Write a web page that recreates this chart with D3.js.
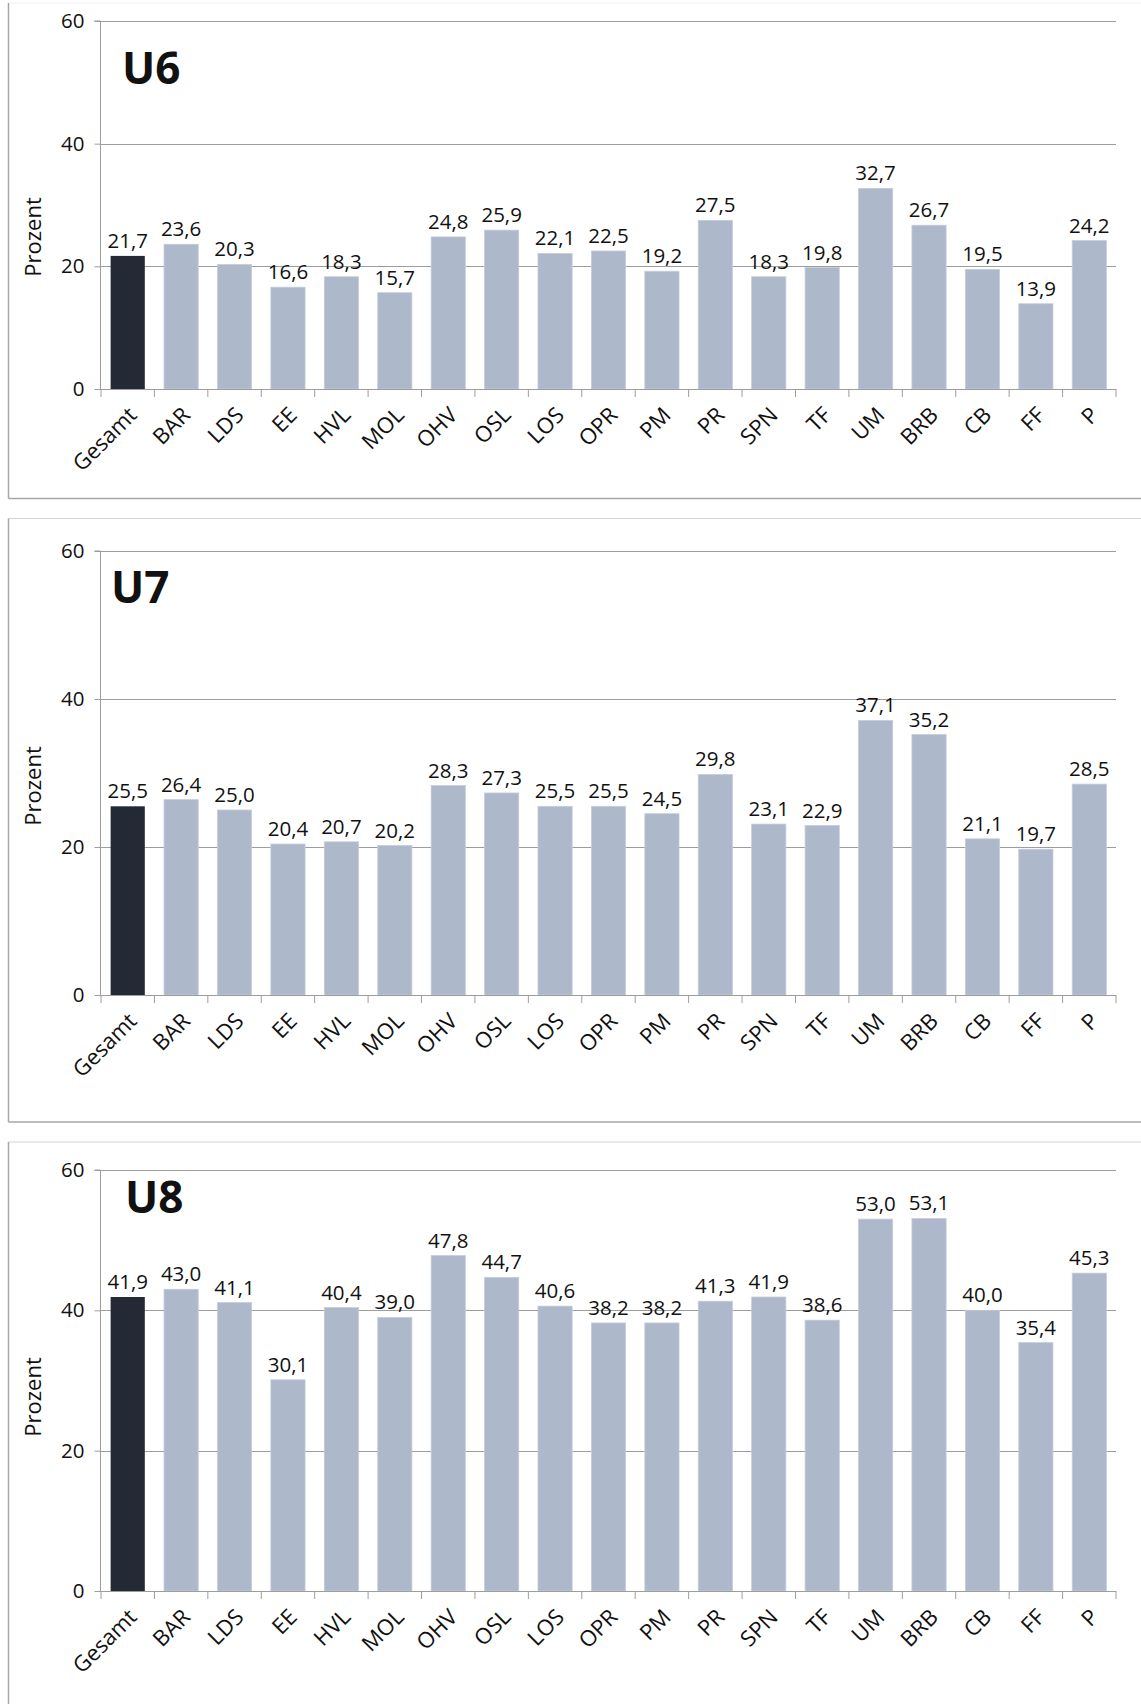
<!DOCTYPE html>
<html>
<head>
<meta charset="utf-8">
<script src="https://cdn.jsdelivr.net/npm/d3@7"></script>
<style>
  body { margin: 0; background: #fff; }
  svg { display: block; }
  text { font-family: 'Open Sans', 'Noto Sans', sans-serif; fill: #111; }
</style>
</head>
<body>
<svg id="chart" width="1141" height="1704"></svg>
<script>
// Kreise / Gesamt
const categories = ['Gesamt','BAR','LDS','EE','HVL','MOL','OHV','OSL','LOS','OPR','PM','PR','SPN','TF','UM','BRB','CB','FF','P'];

const u6 = [21.7,23.6,20.3,16.6,18.3,15.7,24.8,25.9,22.1,22.5,19.2,27.5,18.3,19.8,32.7,26.7,19.5,13.9,24.2];
const u7 = [25.5,26.4,25.0,20.4,20.7,20.2,28.3,27.3,25.5,25.5,24.5,29.8,23.1,22.9,37.1,35.2,21.1,19.7,28.5];
const u8 = [41.9,43.0,41.1,30.1,40.4,39.0,47.8,44.7,40.6,38.2,38.2,41.3,41.9,38.6,53.0,53.1,40.0,35.4,45.3];

const titles = ['U6','U7','U8'];
const yTicks = [0,20,40,60];
const yLabel = 'Prozent';

const series = [u6, u7, u8];

// panel boxes and plot areas (pixels)
const panels = [
  {boxTop: 3,    boxBottom: 498.5, plotTop: 21,  plotBottom: 389, titleX: 122, titleY: 84, labY: 237},
  {boxTop: 518.5, boxBottom: 1122, plotTop: 551, plotBottom: 995, titleX: 111, titleY: 603, labY: 786},
  {boxTop: 1142, boxBottom: 1760, plotTop: 1170, plotBottom: 1591, titleX: 125, titleY: 1213, labY: 1397}
];

const plotLeft = 101, plotRight = 1116;
const fmt = v => v.toFixed(1).replace('.', ',');

const svg = d3.select('#chart');

panels.forEach((p, k) => {
  const g = svg.append('g');
  const data = series[k];

  // panel frame
  g.append('line').attr('x1', 8.5).attr('x2', 1141).attr('y1', p.boxTop).attr('y2', p.boxTop)
    .attr('stroke', k === 0 ? '#f0f0f0' : '#d4d4d4');
  g.append('line').attr('x1', 8.5).attr('x2', 8.5).attr('y1', p.boxTop).attr('y2', p.boxBottom)
    .attr('stroke', '#a6a6a6').attr('stroke-width', 1.5);
  g.append('line').attr('x1', 8.5).attr('x2', 1141).attr('y1', p.boxBottom).attr('y2', p.boxBottom)
    .attr('stroke', '#a6a6a6').attr('stroke-width', 1.5);

  const x = d3.scaleBand()
    .domain(categories)
    .range([plotLeft, plotRight])
    .paddingInner(0.36)
    .paddingOuter(0.18);

  const y = d3.scaleLinear().domain([0, 60]).range([p.plotBottom, p.plotTop]);

  // gridlines
  g.selectAll('.grid').data(yTicks.filter(t => t > 0)).join('line')
    .attr('x1', plotLeft).attr('x2', plotRight)
    .attr('y1', d => Math.round(y(d)) + 0.5).attr('y2', d => Math.round(y(d)) + 0.5)
    .attr('stroke', '#9d9d9d');

  // bars
  g.selectAll('.bar').data(data).join('rect')
    .attr('x', (d, i) => x(categories[i]))
    .attr('width', x.bandwidth())
    .attr('y', d => y(d))
    .attr('height', d => y(0) - y(d))
    .attr('fill', (d, i) => i === 0 ? '#232a36' : '#adb8ca')
    .attr('stroke', (d, i) => i === 0 ? 'none' : '#c4cdd9')
    .attr('stroke-width', 0.8);

  // value labels
  g.selectAll('.val').data(data).join('text')
    .attr('x', (d, i) => x(categories[i]) + x.bandwidth() / 2)
    .attr('y', d => y(d) - 8)
    .attr('text-anchor', 'middle')
    .attr('font-size', 20.5)
    .text(d => fmt(d));

  // y axis
  const yAxis = g.append('g')
    .attr('transform', `translate(${plotLeft - 0.5},0)`)
    .call(d3.axisLeft(y).tickValues(yTicks).tickSize(6).tickPadding(10).tickFormat(d3.format('d')));
  yAxis.select('.domain').attr('stroke', '#9d9d9d').attr('d', `M-6,${y(60)}H0V${y(0)}`);
  yAxis.selectAll('.tick line').attr('stroke', '#9d9d9d');
  yAxis.selectAll('.tick text').attr('font-size', 20.5).style('font-family', "'Open Sans', sans-serif").attr('fill', '#111');

  // x axis baseline and ticks between categories
  const step = x.step();
  g.append('line')
    .attr('x1', plotLeft - 6).attr('x2', plotRight)
    .attr('y1', Math.round(y(0)) + 0.5).attr('y2', Math.round(y(0)) + 0.5)
    .attr('stroke', '#9d9d9d');
  g.selectAll('.xtick').data(d3.range(categories.length + 1)).join('line')
    .attr('x1', i => plotLeft + i * step).attr('x2', i => plotLeft + i * step)
    .attr('y1', y(0)).attr('y2', y(0) + 8)
    .attr('stroke', '#9d9d9d');

  // category labels
  g.selectAll('.xlab').data(categories).join('text')
    .attr('transform', d => `translate(${x(d) + x.bandwidth() / 2 + 5},${y(0) + 22}) rotate(-45)`)
    .attr('text-anchor', 'end')
    .attr('dy', '0.35em')
    .attr('font-size', 22)
    .text(d => d);

  // y axis title
  g.append('text')
    .attr('transform', `translate(41,${p.labY}) rotate(-90)`)
    .attr('text-anchor', 'middle')
    .attr('font-size', 22)
    .text(yLabel);

  // panel title
  g.append('text')
    .attr('x', p.titleX).attr('y', p.titleY)
    .attr('font-size', 44)
    .attr('font-weight', 'bold')
    .text(titles[k]);
});
</script>
</body>
</html>
